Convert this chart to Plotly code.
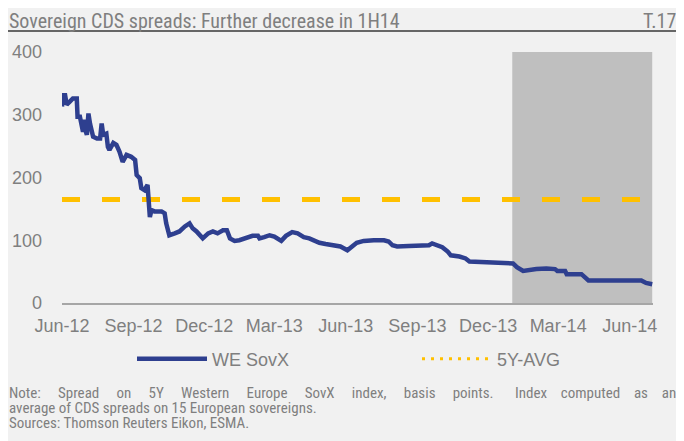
import plotly.graph_objects as go

# WE SovX spread (bp)
sovx_dates = [
    "2012-06-01", "2012-06-02", "2012-06-05", "2012-06-07", "2012-06-11", "2012-06-15",
    "2012-06-20", "2012-06-21", "2012-06-24", "2012-06-26", "2012-06-28", "2012-06-30",
    "2012-07-01", "2012-07-03", "2012-07-05", "2012-07-07", "2012-07-09", "2012-07-11",
    "2012-07-16", "2012-07-20", "2012-07-22", "2012-07-24", "2012-07-28", "2012-07-30",
    "2012-08-01", "2012-08-06", "2012-08-10", "2012-08-14", "2012-08-18", "2012-08-23",
    "2012-08-29", "2012-09-03", "2012-09-05", "2012-09-09", "2012-09-11", "2012-09-15",
    "2012-09-19", "2012-09-20", "2012-09-22", "2012-09-24", "2012-09-28", "2012-10-07",
    "2012-10-11", "2012-10-13", "2012-10-17", "2012-10-24", "2012-10-30", "2012-11-06",
    "2012-11-12", "2012-11-16", "2012-11-21", "2012-11-29", "2012-12-06", "2012-12-12",
    "2012-12-18", "2012-12-25", "2012-12-30", "2013-01-03", "2013-01-09", "2013-01-15",
    "2013-01-24", "2013-02-01", "2013-02-08", "2013-02-10", "2013-02-16", "2013-02-23",
    "2013-03-01", "2013-03-10", "2013-03-16", "2013-03-24", "2013-03-31", "2013-04-08",
    "2013-04-15", "2013-04-21", "2013-04-28", "2013-05-06", "2013-05-17", "2013-05-25",
    "2013-06-03", "2013-06-09", "2013-06-15", "2013-06-24", "2013-07-01", "2013-07-07",
    "2013-07-20", "2013-07-26", "2013-07-31", "2013-08-06", "2013-08-21", "2013-09-07",
    "2013-09-16", "2013-09-20", "2013-09-27", "2013-10-03", "2013-10-10", "2013-10-14",
    "2013-10-25", "2013-11-02", "2013-11-07", "2013-11-24", "2013-12-07", "2014-01-02",
    "2014-01-07", "2014-01-15", "2014-02-01", "2014-02-14", "2014-02-25", "2014-02-28",
    "2014-03-10", "2014-03-12", "2014-03-31", "2014-04-09", "2014-04-28", "2014-06-16",
    "2014-06-22", "2014-06-30",
]
sovx_values = [
    313, 331, 331, 316, 321, 326,
    326, 297, 297, 281, 273, 292,
    276, 268, 302, 286, 276, 265,
    262, 262, 286, 268, 270, 249,
    244, 255, 252, 241, 225, 236,
    233, 228, 204, 199, 183, 180,
    188, 169, 137, 148, 146, 146,
    143, 127, 108, 111, 114, 122,
    127, 119, 114, 103, 111, 114,
    111, 116, 116, 103, 99, 100,
    103, 107, 107, 103, 105, 108,
    106, 99, 107, 113, 111, 105,
    103, 99, 96, 94, 92, 90,
    84, 90, 96, 99, 100, 100,
    100, 98, 92, 90, 91, 92,
    92, 95, 91, 89, 82, 76,
    74, 71, 66, 65, 63, 63,
    57, 51, 54, 55, 54, 51,
    51, 46, 46, 36, 36, 36,
    32, 30,
]

avg_5y = 165
avg_dates = ["2012-06-01", "2014-06-30"]

tick_dates = ["2012-06-01", "2012-09-01", "2012-12-01", "2013-03-01", "2013-06-01",
              "2013-09-01", "2013-12-01", "2014-03-01", "2014-06-01"]
tick_labels = ["Jun-12", "Sep-12", "Dec-12", "Mar-13", "Jun-13",
               "Sep-13", "Dec-13", "Mar-14", "Jun-14"]

shade_start, shade_end = "2014-01-01", "2014-06-30"

note_first_left = "Note: Spread on 5Y Western Europe SovX index, basis points."
note_first_right = "Index computed as an"
note_lines = [
    "average of CDS spreads on 15 European sovereigns.",
    "Sources: Thomson Reuters Eikon, ESMA.",
]

NARROW = "Roboto Condensed, Liberation Sans Narrow, Arial Narrow, sans-serif"
REGULAR = "Liberation Sans, Arial, sans-serif"
GREY = "#7f7f7f"
BG = "#f1f1f1"

# the page has an 8px body margin, so the figure sits at (8, 8) in the window
OFF = 8
W, H = 684 - OFF, 441 - OFF
# plot area in window pixels: x 62..653, y 52..303
ML, MR, MT, MB = 62 - OFF, W - (653 - OFF), 52 - OFF, H - (303 - OFF)
PW, PH = W - ML - MR, H - MT - MB


def px_x(px):
    return (px - OFF - ML) / PW


def px_y(py):
    return (H - MB - (py - OFF)) / PH


def spread(text, n):
    # widen word gaps (the source note is justified)
    return (" " + "\u00a0" * n).join(text.split(" "))


fig = go.Figure()
fig.add_trace(
    go.Scatter(
        x=avg_dates,
        y=[avg_5y] * len(avg_dates),
        mode="lines",
        name="5Y-AVG",
        line=dict(color="#ffc000", width=5, dash="18px,22px"),
        showlegend=False,
    )
)
fig.add_trace(
    go.Scatter(
        x=sovx_dates,
        y=sovx_values,
        mode="lines",
        name="WE SovX",
        line=dict(color="#2e3f8f", width=4.5),
        legend="legend",
    )
)
# legend entry for the average, drawn dotted as in the source
fig.add_trace(
    go.Scatter(
        x=[None],
        y=[None],
        mode="lines",
        name="5Y-AVG",
        line=dict(color="#ffc000", width=3, dash="3px,6px"),
        legend="legend2",
    )
)

fig.add_shape(type="rect", xref="x", yref="y", layer="below",
              x0=shade_start, x1=shade_end, y0=0, y1=400,
              fillcolor="#bfbfbf", line_width=0)
fig.add_shape(type="line", xref="paper", yref="paper",
              x0=px_x(8), x1=px_x(676), y0=px_y(31), y1=px_y(31),
              line=dict(color="#666666", width=2))

fig.add_annotation(text="Sovereign CDS spreads: Further decrease in 1H14",
                   xref="paper", yref="paper", x=px_x(8), y=px_y(8),
                   xanchor="left", yanchor="top", showarrow=False, borderpad=0,
                   font=dict(family=NARROW, size=20, color=GREY))
fig.add_annotation(text="T.17",
                   xref="paper", yref="paper", x=px_x(677), y=px_y(8),
                   xanchor="right", yanchor="top", showarrow=False, borderpad=0,
                   font=dict(family=NARROW, size=20, color=GREY))

note_font = dict(family=NARROW, size=15, color=GREY)
fig.add_annotation(text=spread(note_first_left, 4), xref="paper", yref="paper",
                   x=px_x(7), y=px_y(393), xanchor="left", yanchor="middle",
                   showarrow=False, font=note_font)
fig.add_annotation(text=spread(note_first_right, 3), xref="paper", yref="paper",
                   x=px_x(678), y=px_y(393), xanchor="right", yanchor="middle",
                   showarrow=False, font=note_font)
for line, y in zip(note_lines, [408, 423]):
    fig.add_annotation(text=line, xref="paper", yref="paper",
                       x=px_x(7), y=px_y(y), xanchor="left", yanchor="middle",
                       showarrow=False, font=note_font)

legend_common = dict(
    orientation="h",
    xanchor="left", yanchor="middle",
    bgcolor="rgba(0,0,0,0)",
    itemwidth=70,
    font=dict(family=REGULAR, size=18, color=GREY),
)

fig.update_layout(
    width=W,
    height=H,
    margin=dict(l=ML, r=MR, t=MT, b=MB),
    paper_bgcolor=BG,
    plot_bgcolor=BG,
    font=dict(family=REGULAR, size=18, color=GREY),
    showlegend=True,
    legend=dict(x=px_x(132), y=px_y(359), **legend_common),
    legend2=dict(x=px_x(417), y=px_y(359), **legend_common),
    xaxis=dict(
        type="date",
        range=["2012-06-01", "2014-07-01"],
        tickvals=tick_dates,
        ticktext=tick_labels,
        showgrid=False,
        zeroline=False,
        showline=True,
        linecolor="#a6a6a6",
        linewidth=2,
        ticks="",
        ticklabelstandoff=5,
        automargin=False,
        tickfont=dict(family=REGULAR, size=18, color=GREY),
    ),
    yaxis=dict(
        range=[0, 400],
        tickvals=[0, 100, 200, 300, 400],
        showgrid=False,
        zeroline=False,
        showline=False,
        ticks="",
        ticklabelstandoff=19,
        automargin=False,
        tickfont=dict(family=REGULAR, size=18, color=GREY),
    ),
)

fig.write_html("out.html")
